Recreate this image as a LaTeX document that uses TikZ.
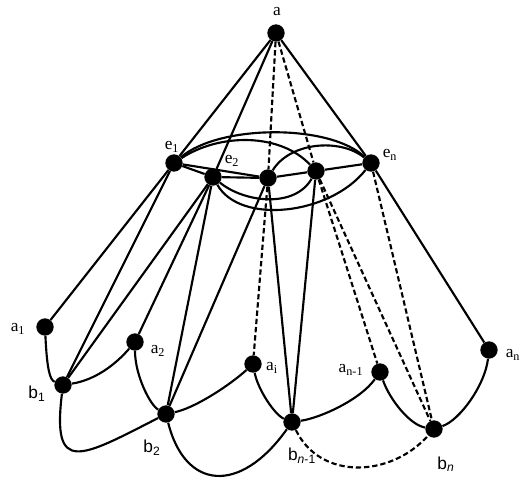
\documentclass[tikz,border=0pt]{standalone}
\usepackage{fontspec}
\setmainfont{Liberation Serif}
\newfontfamily\sansfam{Liberation Sans}
\begin{document}
\begin{tikzpicture}[x=0.75pt,y=-0.75pt,
  dot/.style={circle,fill=black,inner sep=0pt,minimum size=13pt},
  edge/.style={line width=1.6pt},
  dedge/.style={line width=1.6pt,dash pattern=on 4pt off 2.2pt},
  lab/.style={font=\fontsize{13}{14}\selectfont,inner sep=1pt},
  blab/.style={font=\fontsize{13}{14}\sansfam,inner sep=1pt}]
\useasboundingbox (0,0) rectangle (525,483);
% vertices
\node[dot] (a)  at (276,33) {};
\node[dot] (e1) at (174,163) {};
\node[dot] (e2) at (213,177) {};
\node[dot] (ei) at (268,178) {};
\node[dot] (em) at (316,171) {};
\node[dot] (en) at (371,163) {};
\node[dot] (a1) at (45,327) {};
\node[dot] (a2) at (135,342) {};
\node[dot] (ai) at (253,364) {};
\node[dot] (am) at (380,372) {};
\node[dot] (an) at (489,350) {};
\node[dot] (b1) at (63,385) {};
\node[dot] (b2) at (166,414) {};
\node[dot] (bm) at (292,422) {};
\node[dot] (bn) at (434,429) {};
% labels
\node[lab] (la)  at (277,12) {a};
\node[lab] (le1) at (172,147) {e\textsubscript{1}};
\node[lab] (le2) at (232,161) {e\textsubscript{2}};
\node[lab] (len) at (390,155) {e\textsubscript{n}};
\node[lab] (la1) at (18,329) {a\textsubscript{1}};
\node[lab] (la2) at (158,351) {a\textsubscript{2}};
\node[lab] (lai) at (272,368) {a\textsubscript{i}};
\node[lab] (lam) at (351,370) {a\textsubscript{n-1}};
\node[lab] (lan) at (513,355) {a\textsubscript{n}};
\node[blab] (lb1) at (37,394) {b\textsubscript{1}};
\node[blab] (lb2) at (152,448) {b\textsubscript{2}};
\node[blab] (lbm) at (302,456) {b\textsubscript{\itshape n\upshape -1}};
\node[blab] (lbn) at (446,464) {b\textsubscript{\itshape n}};
% from a
\draw[edge] (a) -- (e1);
\draw[edge] (a) -- (e2);
\draw[dedge] (a) -- (ei);
\draw[dedge] (a) -- (em);
\draw[edge] (a) -- (en);
% clique among e's
\draw[edge] (e1) -- (e2);
\draw[edge] (e1) -- (ei);
\draw[edge] (e1) .. controls (220,133) and (280,133) .. (em);
\draw[edge] (e1) .. controls (220,124) and (330,124) .. (en);
\draw[edge] (e2) -- (ei);
\draw[edge] (e2) .. controls (245,203) and (295,208) .. (em);
\draw[edge] (e2) .. controls (240,225) and (330,215) .. (en);
\draw[edge] (ei) -- (em);
\draw[edge] (ei) .. controls (290,142) and (340,138) .. (en);
\draw[edge] (em) -- (en);
% from e's downwards
\draw[edge] (e1) -- (a1);
\draw[edge] (e1) -- (b1);
\draw[edge] (e2) -- (b1);
\draw[edge] (e2) -- (a2);
\draw[edge] (e2) -- (b2);
\draw[edge] (ei) -- (b2);
\draw[dedge] (ei) -- (ai);
\draw[edge] (ei) -- (bm);
\draw[edge] (em) -- (bm);
\draw[dedge] (em) -- (am);
\draw[dedge] (em) -- (bn);
\draw[edge] (en) -- (an);
\draw[dedge] (en) -- (bn);
% bottom curves
\draw[edge] (a1) .. controls (47,370) and (50,380) .. (b1);
\draw[edge] (b1) .. controls (95,380) and (115,365) .. (a2);
\draw[edge] (a2) .. controls (135,375) and (150,405) .. (b2);
\draw[edge] (b1) .. controls (52,475) and (80,458) .. (b2);
\draw[edge] (b2) .. controls (195,408) and (230,385) .. (ai);
\draw[edge] (b2) .. controls (185,490) and (240,495) .. (bm);
\draw[edge] (ai) .. controls (258,390) and (275,415) .. (bm);
\draw[edge] (bm) .. controls (320,418) and (360,400) .. (am);
\draw[edge] (am) .. controls (390,400) and (410,425) .. (bn);
\draw[edge] (an) .. controls (485,385) and (460,420) .. (bn);
\draw[dedge] (bm) .. controls (320,480) and (390,478) .. (bn);
\end{tikzpicture}
\end{document}
